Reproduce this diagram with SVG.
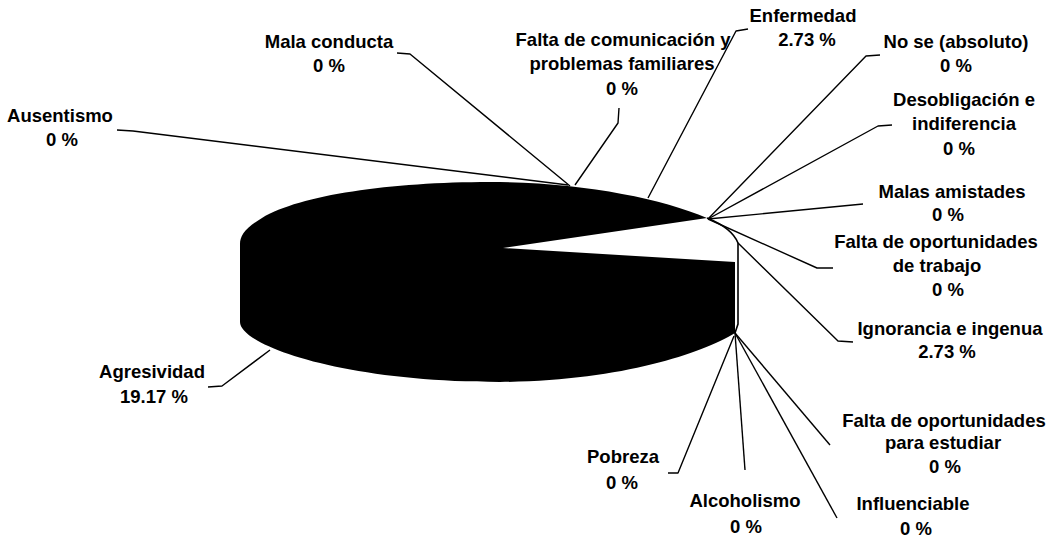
<svg xmlns="http://www.w3.org/2000/svg" width="1058" height="539" viewBox="0 0 1058 539">
<style>
text{font-family:"Liberation Sans",Arial,sans-serif;font-weight:bold;font-size:18.5px;fill:#000;text-anchor:middle}
.ld{fill:none;stroke:#000;stroke-width:1.4;stroke-linejoin:round}
</style>
<rect width="1058" height="539" fill="#fff"/>
<g id="pie">
<path d="M707,218 C660,198 580,182 490,182 C390,182 300,195 262,218 C245,228 240,236 240,244 L240,322 C240,345 340,382 500,382 C620,381 700,354 735,333 L735,262 L503,248 Z" fill="#000"/>
<path d="M707,218 Q732,228 738,243 L738,324 L735,333" fill="none" stroke="#000" stroke-width="1.6"/>
</g>
<g id="connectors">
<polyline class="ld" points="117,130 133,131 568,185"/>
<polyline class="ld" points="397,53 410,54 570,186"/>
<polyline class="ld" points="619,108 618,123 575,185"/>
<polyline class="ld" points="748,29 736,31 648,198"/>
<polyline class="ld" points="880,55 866,56 708,219"/>
<polyline class="ld" points="892,125 878,126 708,219"/>
<polyline class="ld" points="863,204 708,219"/>
<polyline class="ld" points="833,268 817,268 708,219"/>
<polyline class="ld" points="853,342 838,341 738,243"/>
<polyline class="ld" points="830,445 735,333"/>
<polyline class="ld" points="837,518 735,333"/>
<polyline class="ld" points="745,470 735,333"/>
<polyline class="ld" points="668,473 678,473 734,336"/>
<polyline class="ld" points="208,387 222,386 270,350"/>
</g>
<g id="label-ausentismo"><text x="60" y="122">Ausentismo</text><text x="62" y="146">0 %</text></g>
<g id="label-mala-conducta"><text x="329" y="48">Mala conducta</text><text x="329" y="72">0 %</text></g>
<g id="label-comunicacion"><text x="623" y="46">Falta de comunicación y</text><text x="622" y="70">problemas familiares</text><text x="622" y="95">0 %</text></g>
<g id="label-enfermedad"><text x="803" y="22">Enfermedad</text><text x="807" y="46">2.73 %</text></g>
<g id="label-no-se"><text x="956" y="48">No se (absoluto)</text><text x="956" y="72">0 %</text></g>
<g id="label-desobligacion"><text x="964" y="106">Desobligación e</text><text x="964" y="130">indiferencia</text><text x="959" y="155">0 %</text></g>
<g id="label-malas-amistades"><text x="952" y="198">Malas amistades</text><text x="948" y="221">0 %</text></g>
<g id="label-trabajo"><text x="936" y="248">Falta de oportunidades</text><text x="937" y="272">de trabajo</text><text x="948" y="296">0 %</text></g>
<g id="label-ignorancia"><text x="950" y="335">Ignorancia e ingenua</text><text x="947" y="358">2.73 %</text></g>
<g id="label-estudiar"><text x="944" y="427">Falta de oportunidades</text><text x="943" y="449">para estudiar</text><text x="945" y="473">0 %</text></g>
<g id="label-pobreza"><text x="623" y="463">Pobreza</text><text x="622" y="489">0 %</text></g>
<g id="label-alcoholismo"><text x="745" y="507">Alcoholismo</text><text x="746" y="533">0 %</text></g>
<g id="label-influenciable"><text x="913" y="510">Influenciable</text><text x="916" y="535">0 %</text></g>
<g id="label-agresividad"><text x="152" y="378">Agresividad</text><text x="154" y="403">19.17 %</text></g>
</svg>
